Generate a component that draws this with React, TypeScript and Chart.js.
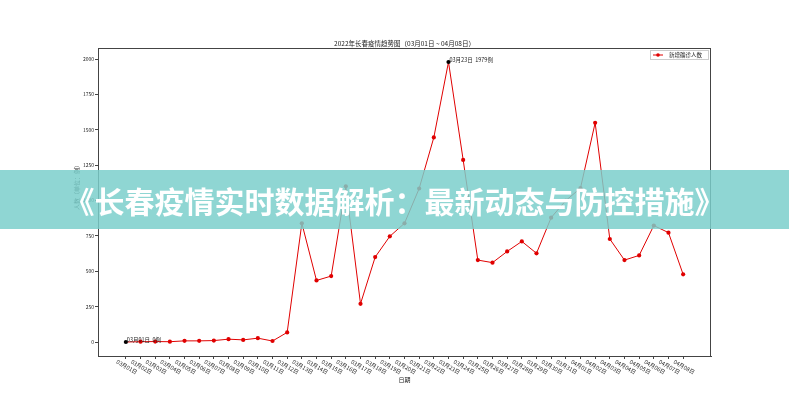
import React, { useEffect, useRef } from "react";
import { Chart, registerables } from "chart.js";

Chart.register(...registerables);

const dateLabels: string[] = [
  "03月01日", "03月02日", "03月03日", "03月04日", "03月05日", "03月06日", "03月07日", "03月08日",
  "03月09日", "03月10日", "03月11日", "03月12日", "03月13日", "03月14日", "03月15日", "03月16日",
  "03月17日", "03月18日", "03月19日", "03月20日", "03月21日", "03月22日", "03月23日", "03月24日",
  "03月25日", "03月26日", "03月27日", "03月28日", "03月29日", "03月30日", "03月31日", "04月01日",
  "04月02日", "04月03日", "04月04日", "04月05日", "04月06日", "04月07日", "04月08日",
];

const newCases: number[] = [
  0, 2, 3, 2, 8, 8, 10, 20, 15, 27, 7, 68, 839, 435, 466, 1100, 270, 600, 747, 839, 1085, 1446,
  1979, 1287, 579, 561, 640, 711, 627, 879, 1000, 1087, 1549, 728, 579, 612, 823, 773, 478,
];

const yTickValues: number[] = [0, 250, 500, 750, 1000, 1250, 1500, 1750, 2000];

const chartTitle = "2022年长春疫情趋势图（03月01日 ~ 04月08日）";
const seriesName = "新增确诊人数";
const xTitle = "日期";
const yTitle = "人数（单位：例）";
const bannerText = "《长春疫情实时数据解析：最新动态与防控措施》";

const FONT = '"Noto Sans CJK SC", "DejaVu Sans", sans-serif';

export default function App() {
  const ref = useRef<HTMLCanvasElement | null>(null);

  useEffect(() => {
    const canvas = ref.current;
    if (!canvas) return;
    const n = newCases.length;
    const maxV = Math.max(...newCases);
    const minV = Math.min(...newCases);
    const pad = (maxV - minV) * 0.05;
    const xPad = (n - 1) * 0.05;
    const maxIdx = newCases.indexOf(maxV);

    const points = newCases.map((v, i) => ({ x: i, y: v }));
    const pointColors = newCases.map((_, i) => (i === 0 || i === maxIdx ? "#000000" : "#e00000"));

    const customDraw = {
      id: "customDraw",
      afterDraw(chart: any) {
        const { ctx, chartArea } = chart;
        const xs = chart.scales.x;
        const ys = chart.scales.y;
        ctx.save();
        ctx.strokeStyle = "#444";
        ctx.lineWidth = 1;
        ctx.strokeRect(chartArea.left + 0.5, chartArea.top + 0.5, chartArea.right - chartArea.left - 1, chartArea.bottom - chartArea.top);

        ctx.fillStyle = "#222";
        ctx.font = `5px ${FONT}`;
        ctx.textAlign = "right";
        ctx.textBaseline = "middle";
        yTickValues.forEach((v) => {
          ctx.fillText(String(v), chartArea.left - 4, ys.getPixelForValue(v));
        });

        ctx.font = `5.5px ${FONT}`;
        dateLabels.forEach((lab, i) => {
          const px = xs.getPixelForValue(i);
          ctx.save();
          ctx.translate(px + 1, chartArea.bottom + 11);
          ctx.rotate((30 * Math.PI) / 180);
          ctx.textAlign = "center";
          ctx.textBaseline = "middle";
          ctx.fillText(lab, 0, 0);
          ctx.restore();
        });

        ctx.font = `6px ${FONT}`;
        ctx.textAlign = "center";
        ctx.textBaseline = "middle";
        ctx.fillText(xTitle, (chartArea.left + chartArea.right) / 2, 380);
        ctx.save();
        ctx.translate(77, 186);
        ctx.rotate(-Math.PI / 2);
        ctx.fillText(yTitle, 0, 0);
        ctx.restore();

        ctx.font = `6.5px ${FONT}`;
        ctx.fillText(chartTitle, (chartArea.left + chartArea.right) / 2, 44);

        const lx = 650, ly = 50, lw = 58, lh = 9;
        ctx.fillStyle = "#fff";
        ctx.fillRect(lx, ly, lw, lh);
        ctx.strokeStyle = "#ccc";
        ctx.strokeRect(lx + 0.5, ly + 0.5, lw, lh);
        ctx.strokeStyle = "#e00000";
        ctx.lineWidth = 1;
        ctx.beginPath();
        ctx.moveTo(lx + 3, ly + 5);
        ctx.lineTo(lx + 13, ly + 5);
        ctx.stroke();
        ctx.fillStyle = "#e00000";
        ctx.beginPath();
        ctx.arc(lx + 8, ly + 5, 1.8, 0, Math.PI * 2);
        ctx.fill();
        ctx.fillStyle = "#222";
        ctx.font = `5.5px ${FONT}`;
        ctx.textAlign = "left";
        ctx.fillText(seriesName, lx + 19, ly + 5);

        ctx.font = `5.5px ${FONT}`;
        ctx.textBaseline = "bottom";
        [0, maxIdx].forEach((i) => {
          const px = xs.getPixelForValue(i);
          const py = ys.getPixelForValue(newCases[i]);
          ctx.fillText(`${dateLabels[i]}  ${newCases[i]}例`, px + 1, py + 1);
        });
        ctx.restore();
      },
    };

    const chart = new Chart(canvas, {
      type: "line",
      data: {
        datasets: [
          {
            label: seriesName,
            data: points,
            borderColor: "#e00000",
            borderWidth: 1,
            backgroundColor: pointColors,
            pointBackgroundColor: pointColors,
            pointBorderColor: pointColors,
            pointRadius: 2.1,
            pointBorderWidth: 0,
            tension: 0,
          },
        ],
      },
      options: {
        responsive: false,
        animation: false,
        devicePixelRatio: 1,
        layout: { padding: { top: 48, right: 78, left: 0, bottom: 0 } },
        plugins: {
          legend: { display: false },
          title: { display: false },
          tooltip: { enabled: false },
        },
        scales: {
          x: {
            type: "linear",
            min: -xPad,
            max: n - 1 + xPad,
            afterBuildTicks: (s: any) => {
              s.ticks = dateLabels.map((_, i) => ({ value: i }));
            },
            afterFit: (s: any) => {
              s.height = 44;
            },
            ticks: { display: false },
            grid: { display: true, drawOnChartArea: false, drawTicks: true, tickLength: 3, color: "#444" },
            border: { display: true, color: "#444" },
          },
          y: {
            type: "linear",
            min: minV - pad,
            max: maxV + pad,
            afterBuildTicks: (s: any) => {
              s.ticks = yTickValues.map((v) => ({ value: v }));
            },
            afterFit: (s: any) => {
              s.width = 98;
            },
            ticks: { display: false },
            grid: { display: true, drawOnChartArea: false, drawTicks: true, tickLength: 3, color: "#444" },
            border: { display: true, color: "#444" },
          },
        },
      },
      plugins: [customDraw],
    } as any);

    return () => chart.destroy();
  }, []);

  return (
    <div style={{ position: "fixed", left: 0, top: 0, width: 789, height: 400, background: "#fff", overflow: "hidden" }}>
      <canvas ref={ref} width={789} height={400} style={{ position: "absolute", left: 0, top: 0, width: 789, height: 400 }} />
      <div
        style={{
          position: "absolute",
          left: 0,
          top: 170,
          width: 789,
          height: 59,
          background: "rgba(122, 206, 202, 0.84)",
          display: "flex",
          alignItems: "center",
          justifyContent: "center",
          color: "#fff",
          fontFamily: FONT,
          fontWeight: 700,
          fontSize: 30,
          whiteSpace: "nowrap",
          letterSpacing: 0,
        }}
      >
        {bannerText}
      </div>
    </div>
  );
}
